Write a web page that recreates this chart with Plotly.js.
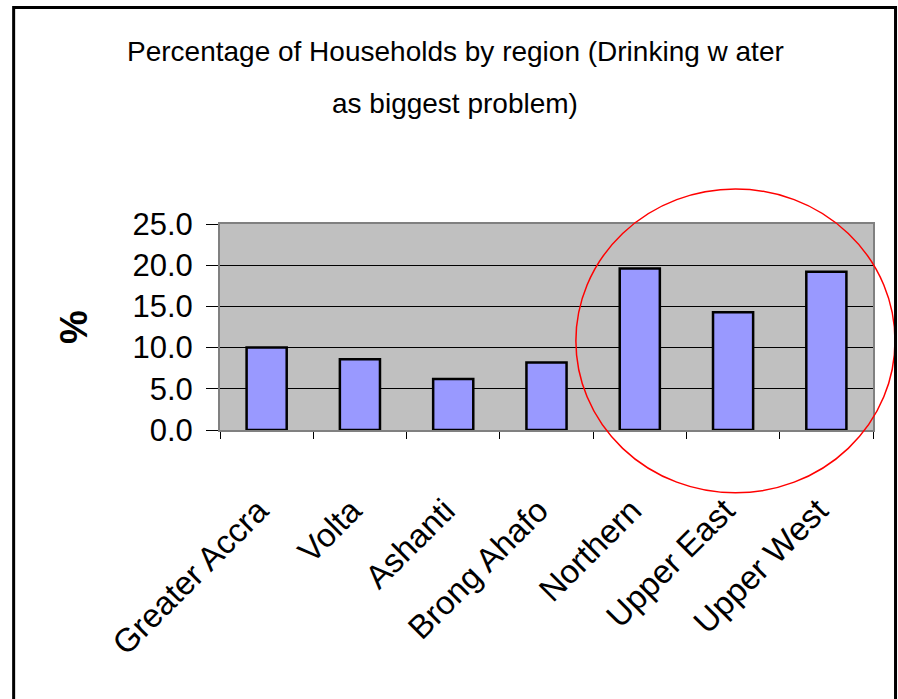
<!DOCTYPE html>
<html>
<head>
<meta charset="utf-8">
<script src="https://cdn.plot.ly/plotly-3.0.1.min.js"></script>
<style>html,body{margin:0;padding:0;background:#fff;}#chart{width:898px;height:699px;}</style>
</head>
<body>
<div id="chart"></div>
<script>
const regions = ["Greater Accra", "Volta", "Ashanti", "Brong Ahafo", "Northern", "Upper East", "Upper West"];
const pctHouseholds = [10.0, 8.6, 6.2, 8.2, 19.6, 14.3, 19.2];
const yTickValues = [0, 5, 10, 15, 20, 25];
const yTickLabels = ["0.0", "5.0", "10.0", "15.0", "20.0", "25.0"];
const titleLine1 = "Percentage of Households by region (Drinking w ater";
const titleLine2 = "as biggest problem)";
const yTitle = "%";

const regular = "'Liberation Sans', Arial, sans-serif";

const trace = {
  type: "bar",
  x: regions,
  y: pctHouseholds,
  marker: {color: "#9999FF", line: {color: "#000000", width: 2.5}},
  hoverinfo: "x+y"
};

const layout = {
  width: 898, height: 699,
  margin: {l: 220, r: 25, t: 224, b: 269, pad: 0},
  paper_bgcolor: "#ffffff",
  plot_bgcolor: "#C0C0C0",
  showlegend: false,
  bargap: 0.57,
  xaxis: {
    type: "category",
    tickson: "boundaries",
    ticks: "outside", ticklen: 7, tickcolor: "#000000", tickwidth: 1,
    tickangle: -45,
    ticklabelstandoff: 46,
    ticklabelshift: -8,
    tickfont: {family: regular, size: 33, color: "#000000"},
    showline: true, linecolor: "#808080", linewidth: 2, mirror: true,
    showgrid: false, zeroline: false, fixedrange: true
  },
  yaxis: {
    range: [0, 25],
    tickvals: yTickValues, ticktext: yTickLabels,
    ticks: "outside", ticklen: 12, tickcolor: "#000000", tickwidth: 1,
    ticklabelstandoff: 7,
    tickfont: {family: regular, size: 31, color: "#000000"},
    showline: true, linecolor: "#808080", linewidth: 2, mirror: true,
    showgrid: true, gridcolor: "#000000", gridwidth: 1,
    zeroline: false, fixedrange: true,
    title: {text: yTitle, standoff: 33, font: {family: regular, size: 38, color: "#000000", weight: "bold"}}
  },
  annotations: [
    {text: titleLine1, xref: "paper", yref: "paper", x: 0.36, y: 1.835, xanchor: "center", yanchor: "middle", showarrow: false,
     font: {family: regular, size: 28, color: "#000000"}},
    {text: titleLine2, xref: "paper", yref: "paper", x: 0.36, y: 1.587, xanchor: "center", yanchor: "middle", showarrow: false,
     font: {family: regular, size: 28, color: "#000000"}}
  ],
  shapes: [
    {type: "circle", xref: "paper", yref: "paper", x0: 0.545, x1: 1.0337, y0: -0.305, y1: 1.170,
     line: {color: "#FF0000", width: 1.5}, layer: "above"},
    {type: "rect", xref: "paper", yref: "paper", x0: -0.316, x1: 1.0345, y0: -2.5, y1: 2.051,
     line: {color: "#000000", width: 3}, layer: "above"}
  ]
};

Plotly.newPlot("chart", [trace], layout, {displayModeBar: false, responsive: false});
</script>
</body>
</html>
